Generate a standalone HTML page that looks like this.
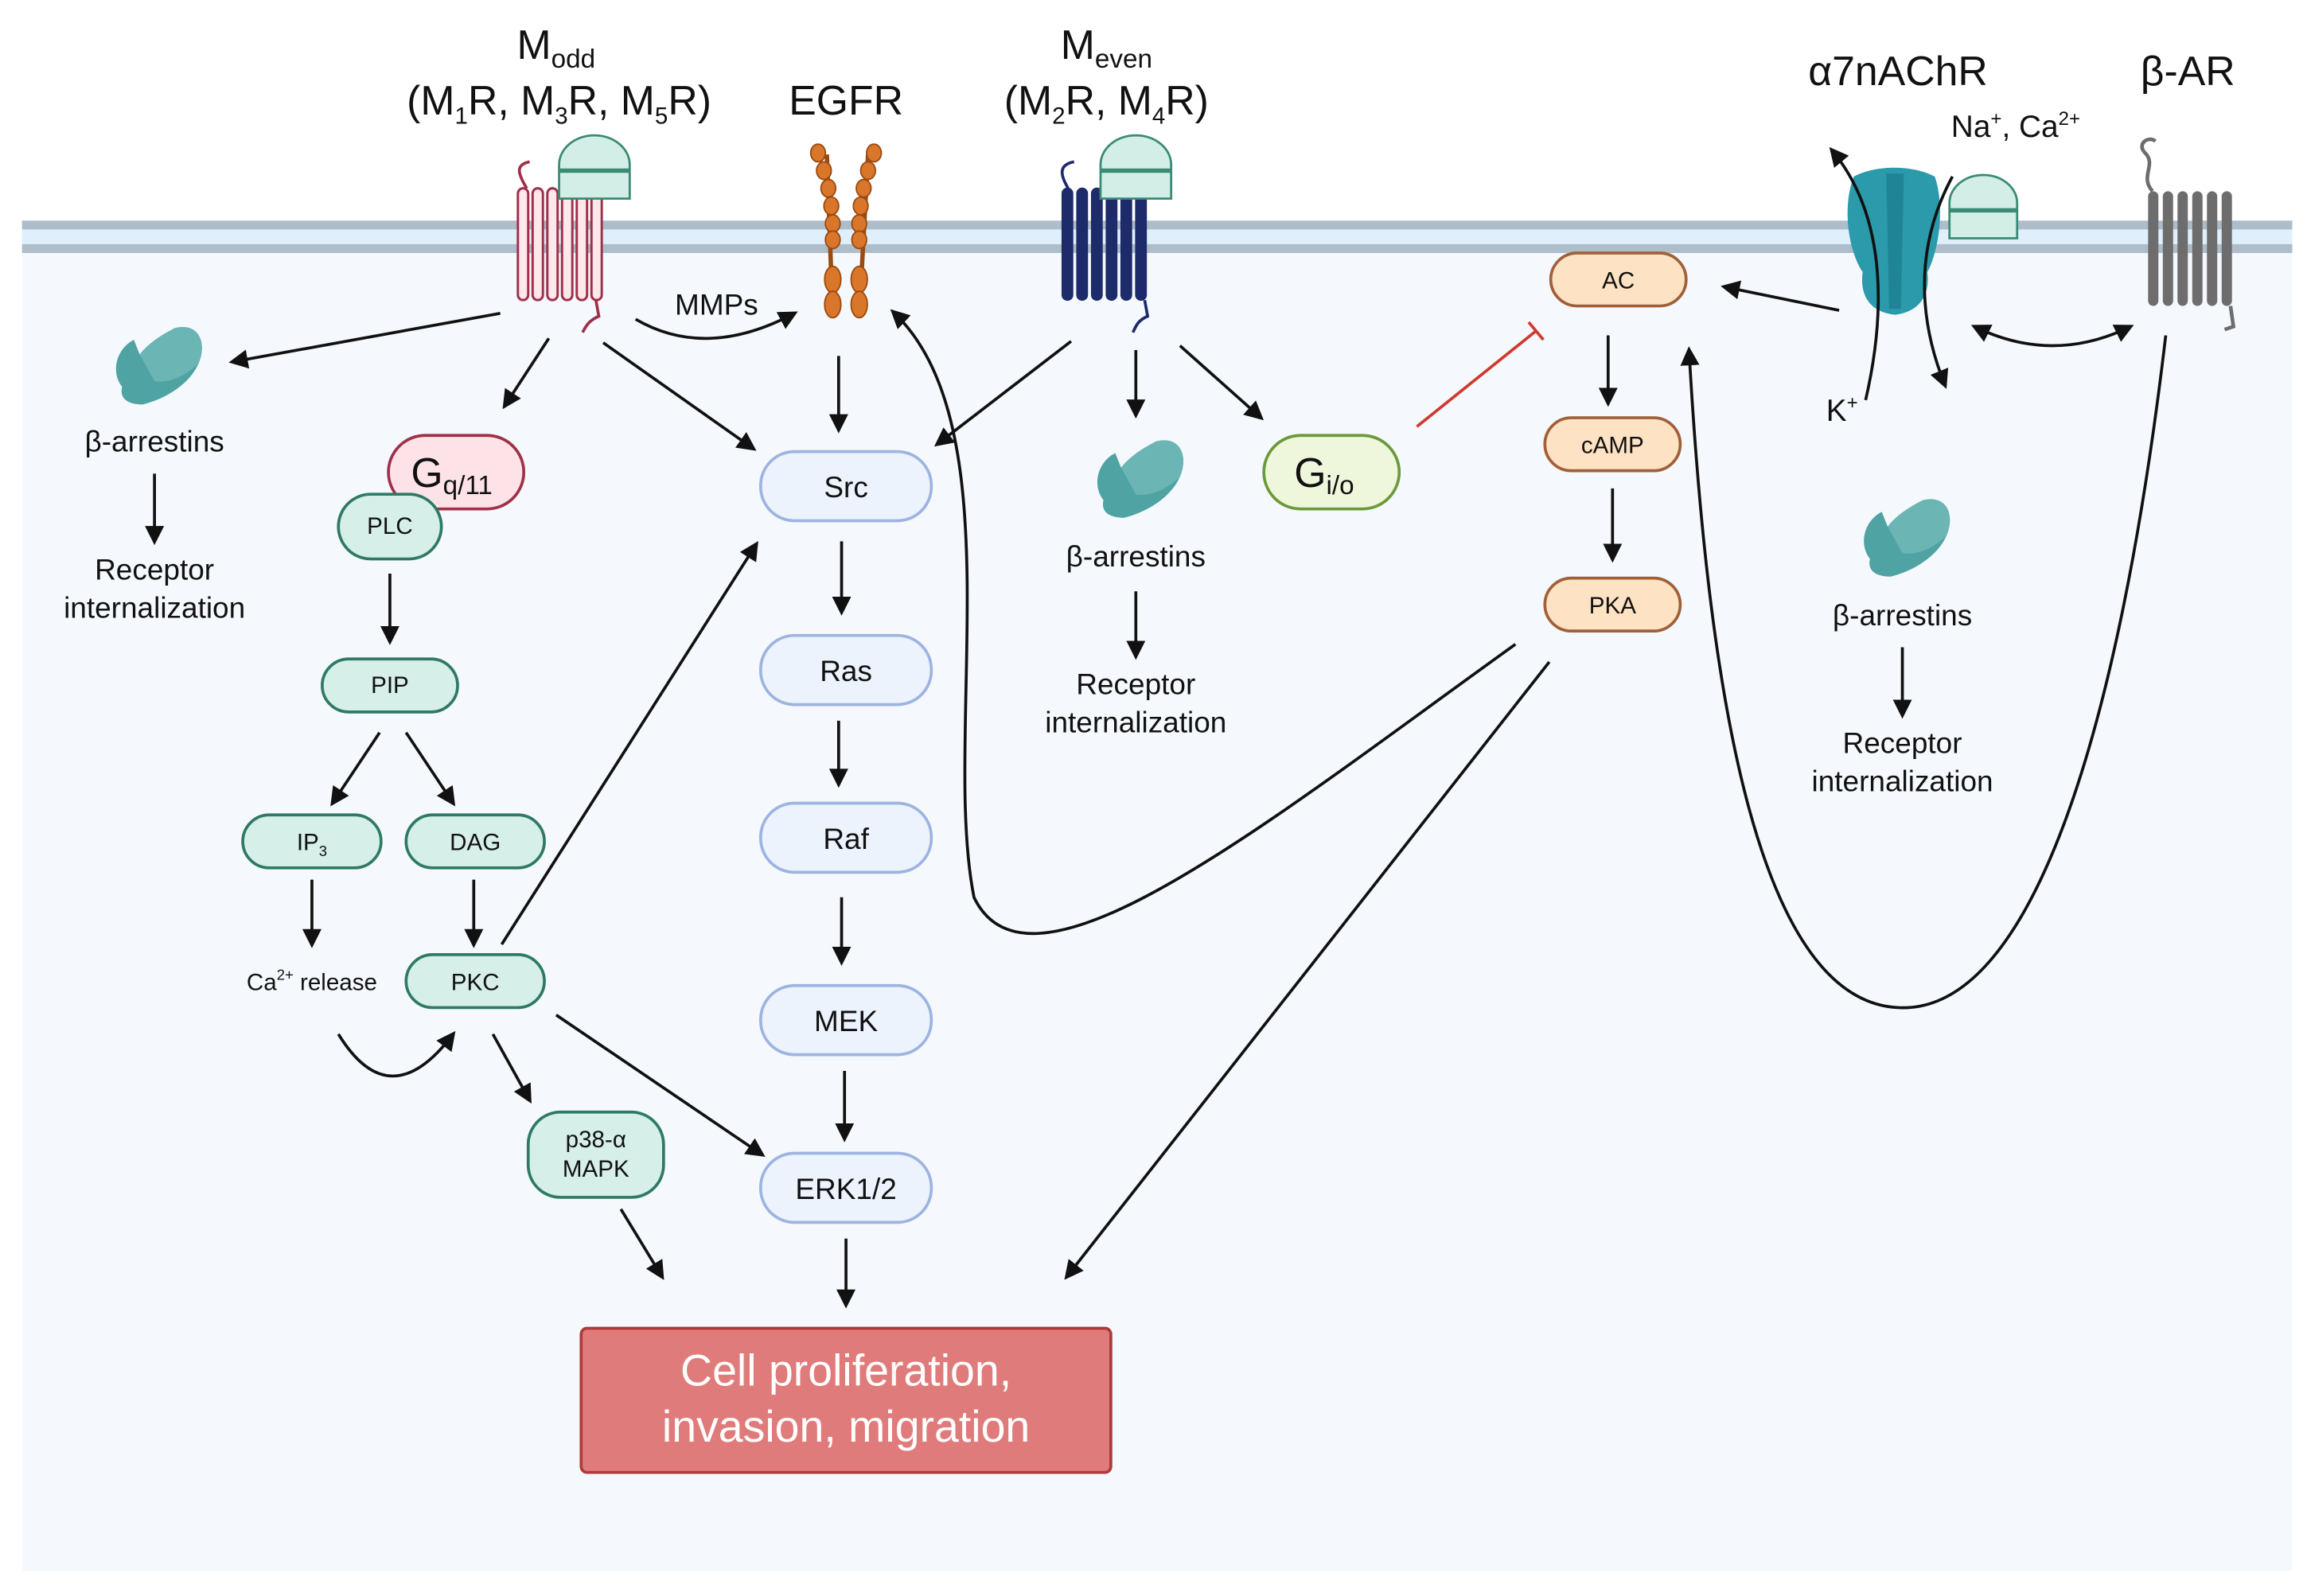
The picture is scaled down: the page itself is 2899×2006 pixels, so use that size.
<!DOCTYPE html>
<html><head><meta charset="utf-8"><style>
html,body{margin:0;padding:0;background:#fff;}
svg{display:block;}
text{font-family:"Liberation Sans",sans-serif;fill:#111;}
</style></head><body>
<svg width="2899" height="2006" viewBox="0 0 1568 1085" xmlns="http://www.w3.org/2000/svg">
<defs>
<marker id="a" viewBox="0 0 10 10" refX="8" refY="5" markerWidth="6.5" markerHeight="6.5" orient="auto-start-reverse"><path d="M0,0 L10,5 L0,10 z" fill="#111"/></marker>
<g id="arr">
<path d="M-22,18 C-30,8 -26,-8 -14,-14 L-10,-4 C-4,-12 6,-18 14,-22 C30,-26 36,-12 30,2 C24,16 8,26 -8,30 C-18,30 -24,26 -22,18 z" fill="#4fa3a3"/>
<path d="M-10,-4 C-4,-12 6,-18 14,-22 C30,-26 36,-12 30,2 C22,10 10,16 0,14 z" fill="#6bb5b5"/>
</g>
</defs>
<rect width="1568" height="1085" fill="#fff"/>
<rect x="15" y="150" width="1543" height="918" fill="#f5f9fd"/>
<rect x="15" y="150" width="1543" height="22" fill="#e0effc"/>
<rect x="15" y="150" width="1543" height="6" fill="#aebdca"/>
<rect x="15" y="166" width="1543" height="6" fill="#aebdca"/>

<text x="378" y="40" font-size="28" text-anchor="middle">M<tspan font-size="18" dy="6">odd</tspan></text>
<text x="380" y="78" font-size="28" text-anchor="middle">(M<tspan font-size="16" dy="6">1</tspan><tspan dy="-6">R, M</tspan><tspan font-size="16" dy="6">3</tspan><tspan dy="-6">R, M</tspan><tspan font-size="16" dy="6">5</tspan><tspan dy="-6">R)</tspan></text>
<text x="575" y="78" font-size="28" text-anchor="middle">EGFR</text>
<text x="752" y="40" font-size="28" text-anchor="middle">M<tspan font-size="18" dy="6">even</tspan></text>
<text x="752" y="78" font-size="28" text-anchor="middle">(M<tspan font-size="16" dy="6">2</tspan><tspan dy="-6">R, M</tspan><tspan font-size="16" dy="6">4</tspan><tspan dy="-6">R)</tspan></text>
<text x="1290" y="58" font-size="28" text-anchor="middle">α7nAChR</text>
<text x="1487" y="58" font-size="28" text-anchor="middle">β-AR</text>
<text x="1370" y="93" font-size="21" text-anchor="middle">Na<tspan font-size="13" dy="-8">+</tspan><tspan dy="8">, Ca</tspan><tspan font-size="13" dy="-8">2+</tspan></text>
<text x="1252" y="286" font-size="21" text-anchor="middle">K<tspan font-size="13" dy="-8">+</tspan></text>

<g fill="#fde8ec" stroke="#a0304a" stroke-width="1.6">
<rect x="352" y="128" width="7" height="76" rx="3.5"/><rect x="362" y="128" width="7" height="76" rx="3.5"/><rect x="372" y="128" width="7" height="76" rx="3.5"/><rect x="382" y="128" width="7" height="76" rx="3.5"/><rect x="392" y="128" width="7" height="76" rx="3.5"/><rect x="402" y="128" width="7" height="76" rx="3.5"/>
</g>
<path d="M358,128 C352,118 350,112 360,110 M405,204 L407,215 C400,218 398,222 396,226" fill="none" stroke="#a0304a" stroke-width="2"/>
<g fill="#1d2b6b" stroke="#1d2b6b">
<rect x="722" y="128" width="7" height="76" rx="3.5"/><rect x="732" y="128" width="7" height="76" rx="3.5"/><rect x="742" y="128" width="7" height="76" rx="3.5"/><rect x="752" y="128" width="7" height="76" rx="3.5"/><rect x="762" y="128" width="7" height="76" rx="3.5"/><rect x="772" y="128" width="7" height="76" rx="3.5"/>
</g>
<path d="M726,128 C720,118 720,112 730,110 M778,204 L780,215 C773,218 772,222 770,226" fill="none" stroke="#1d2b6b" stroke-width="2"/>
<g fill="#d3eee6" stroke="#3a8a76" stroke-width="1.5">
<path d="M380,135 L380,112 A24,20 0 0 1 428,112 L428,135 z"/><line x1="380" y1="116" x2="428" y2="116" stroke-width="3"/>
<path d="M748,135 L748,112 A24,20 0 0 1 796,112 L796,135 z"/><line x1="748" y1="116" x2="796" y2="116" stroke-width="3"/>
<path d="M1325,162 L1325,138 A23,19 0 0 1 1371,138 L1371,162 z"/><line x1="1325" y1="143" x2="1371" y2="143" stroke-width="3"/>
</g>
<g fill="#d9762a" stroke="#9a4a12" stroke-width="1">
<line x1="562" y1="105" x2="566" y2="215" stroke-width="3"/><line x1="590" y1="105" x2="584" y2="215" stroke-width="3"/>
<ellipse cx="556" cy="104" rx="5" ry="6"/><ellipse cx="560" cy="116" rx="5" ry="6"/><ellipse cx="563" cy="128" rx="5" ry="6"/><ellipse cx="565" cy="140" rx="5" ry="6"/><ellipse cx="566" cy="152" rx="5" ry="6"/><ellipse cx="566" cy="163" rx="5" ry="6"/>
<ellipse cx="594" cy="104" rx="5" ry="6"/><ellipse cx="590" cy="116" rx="5" ry="6"/><ellipse cx="587" cy="128" rx="5" ry="6"/><ellipse cx="585" cy="140" rx="5" ry="6"/><ellipse cx="584" cy="152" rx="5" ry="6"/><ellipse cx="584" cy="163" rx="5" ry="6"/>
<ellipse cx="566" cy="190" rx="5.5" ry="9"/><ellipse cx="566" cy="207" rx="5.5" ry="9"/><ellipse cx="584" cy="190" rx="5.5" ry="9"/><ellipse cx="584" cy="207" rx="5.5" ry="9"/>
</g>
<path d="M1260,120 C1275,112 1300,112 1315,120 C1322,140 1318,170 1310,185 C1312,200 1305,212 1288,214 C1270,212 1264,200 1266,185 C1256,170 1252,140 1260,120 z" fill="#2b9aab"/>
<path d="M1282,118 L1294,118 L1292,210 L1284,210 z" fill="#1f8596"/>
<g fill="#6d6d6d"><rect x="1460" y="130" width="7" height="78" rx="3.5"/><rect x="1470" y="130" width="7" height="78" rx="3.5"/><rect x="1480" y="130" width="7" height="78" rx="3.5"/><rect x="1490" y="130" width="7" height="78" rx="3.5"/><rect x="1500" y="130" width="7" height="78" rx="3.5"/><rect x="1510" y="130" width="7" height="78" rx="3.5"/></g>
<path d="M1463,130 C1454,120 1466,112 1458,104 C1452,98 1460,92 1465,96 M1516,208 L1518,222 L1512,224" fill="none" stroke="#6d6d6d" stroke-width="2.5"/>

<use href="#arr" x="105" y="245"/>
<use href="#arr" x="772" y="322"/>
<use href="#arr" x="1293" y="362"/>
<g font-size="20" text-anchor="middle">
<text x="105" y="307">β-arrestins</text><text x="105" y="394">Receptor</text><text x="105" y="420">internalization</text>
<text x="772" y="385">β-arrestins</text><text x="772" y="472">Receptor</text><text x="772" y="498">internalization</text>
<text x="1293" y="425">β-arrestins</text><text x="1293" y="512">Receptor</text><text x="1293" y="538">internalization</text>
<text x="487" y="214">MMPs</text>
</g>

<g stroke-width="2">
<rect x="264" y="296" width="92" height="50" rx="25" fill="#fde3e8" stroke="#a0304a"/>
<rect x="230" y="336" width="70" height="44" rx="22" fill="#d6efe8" stroke="#2e7a64"/>
<rect x="219" y="448" width="92" height="36" rx="18" fill="#d6efe8" stroke="#2e7a64"/>
<rect x="165" y="554" width="94" height="36" rx="18" fill="#d6efe8" stroke="#2e7a64"/>
<rect x="276" y="554" width="94" height="36" rx="18" fill="#d6efe8" stroke="#2e7a64"/>
<rect x="276" y="649" width="94" height="36" rx="18" fill="#d6efe8" stroke="#2e7a64"/>
<rect x="359" y="756" width="92" height="58" rx="22" fill="#d6efe8" stroke="#2e7a64"/>
<rect x="517" y="307" width="116" height="47" rx="23" fill="#edf3fd" stroke="#9db4e0"/>
<rect x="517" y="432" width="116" height="47" rx="23" fill="#edf3fd" stroke="#9db4e0"/>
<rect x="517" y="546" width="116" height="47" rx="23" fill="#edf3fd" stroke="#9db4e0"/>
<rect x="517" y="670" width="116" height="47" rx="23" fill="#edf3fd" stroke="#9db4e0"/>
<rect x="517" y="784" width="116" height="47" rx="23" fill="#edf3fd" stroke="#9db4e0"/>
<rect x="859" y="296" width="92" height="50" rx="25" fill="#eef6dc" stroke="#6a9a3a"/>
<rect x="1054" y="172" width="92" height="36" rx="18" fill="#fde2c4" stroke="#a0603a"/>
<rect x="1050" y="284" width="92" height="36" rx="18" fill="#fde2c4" stroke="#a0603a"/>
<rect x="1050" y="393" width="92" height="36" rx="18" fill="#fde2c4" stroke="#a0603a"/>
<rect x="395" y="903" width="360" height="98" rx="4" fill="#e07b7b" stroke="#b03a3a"/>
</g>
<g text-anchor="middle">
<text x="307" y="331" font-size="28">G<tspan font-size="18" dy="5">q/11</tspan></text>
<text x="265" y="363" font-size="16">PLC</text>
<text x="265" y="471" font-size="16">PIP</text>
<text x="212" y="578" font-size="16">IP<tspan font-size="10" dy="4">3</tspan></text>
<text x="323" y="578" font-size="16">DAG</text>
<text x="323" y="673" font-size="16">PKC</text>
<text x="212" y="673" font-size="16">Ca<tspan font-size="10" dy="-7">2+</tspan><tspan dy="7"> release</tspan></text>
<text x="405" y="780" font-size="16">p38-α</text><text x="405" y="800" font-size="16">MAPK</text>
<text x="575" y="338" font-size="20">Src</text>
<text x="575" y="463" font-size="20">Ras</text>
<text x="575" y="577" font-size="20">Raf</text>
<text x="575" y="701" font-size="20">MEK</text>
<text x="575" y="815" font-size="20">ERK1/2</text>
<text x="900" y="331" font-size="28">G<tspan font-size="18" dy="5">i/o</tspan></text>
<text x="1100" y="196" font-size="16">AC</text>
<text x="1096" y="308" font-size="16">cAMP</text>
<text x="1096" y="417" font-size="16">PKA</text>
<text x="575" y="942" font-size="30" style="fill:#fff">Cell proliferation,</text>
<text x="575" y="980" font-size="30" style="fill:#fff">invasion, migration</text>
</g>

<g stroke="#111" stroke-width="2" fill="none" marker-end="url(#a)">
<line x1="340" y1="213" x2="158" y2="246"/>
<line x1="373" y1="230" x2="343" y2="276"/>
<line x1="410" y1="233" x2="512" y2="305"/>
<path d="M432,217 Q480,245 540,213"/>
<line x1="570" y1="242" x2="570" y2="292"/>
<line x1="728" y1="232" x2="637" y2="302"/>
<line x1="772" y1="238" x2="772" y2="282"/>
<line x1="802" y1="235" x2="857" y2="284"/>
<line x1="105" y1="322" x2="105" y2="368"/>
<line x1="772" y1="402" x2="772" y2="446"/>
<line x1="1293" y1="440" x2="1293" y2="486"/>
<line x1="265" y1="390" x2="265" y2="436"/>
<line x1="258" y1="498" x2="226" y2="546"/>
<line x1="276" y1="498" x2="308" y2="546"/>
<line x1="212" y1="598" x2="212" y2="642"/>
<line x1="322" y1="598" x2="322" y2="642"/>
<path d="M230,703 Q265,760 308,703"/>
<line x1="341" y1="642" x2="514" y2="370"/>
<line x1="335" y1="703" x2="360" y2="748"/>
<line x1="378" y1="690" x2="518" y2="785"/>
<line x1="422" y1="822" x2="450" y2="868"/>
<line x1="572" y1="368" x2="572" y2="416"/>
<line x1="570" y1="490" x2="570" y2="533"/>
<line x1="572" y1="610" x2="572" y2="654"/>
<line x1="574" y1="728" x2="574" y2="774"/>
<line x1="575" y1="842" x2="575" y2="887"/>
<line x1="1093" y1="228" x2="1093" y2="274"/>
<line x1="1096" y1="332" x2="1096" y2="380"/>
<line x1="1250" y1="211" x2="1172" y2="195"/>
<line x1="1053" y1="450" x2="725" y2="868"/>
<path d="M1030,438 C860,560 700,690 662,610 C640,500 690,290 607,212"/>
<path d="M1472,228 C1440,500 1380,690 1290,685 C1190,680 1160,450 1148,238"/>
<path d="M1268,272 C1280,220 1285,150 1245,102"/>
<path d="M1327,120 C1300,170 1305,220 1322,262"/>
<path d="M1342,222 Q1395,248 1448,222" marker-start="url(#a)"/>
</g>
<g stroke="#d03a30" stroke-width="2"><line x1="963" y1="290" x2="1044" y2="225"/><line x1="1039" y1="219" x2="1049" y2="231"/></g>
</svg>
</body></html>
